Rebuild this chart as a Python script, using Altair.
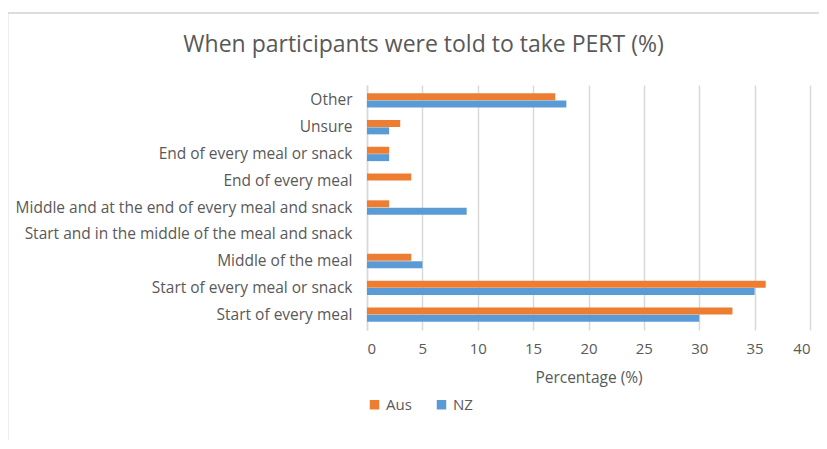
import altair as alt
import pandas as pd

categories = [
    "Other",
    "Unsure ",
    "End of every meal or snack",
    "End of every meal",
    "Middle and at the end of every meal and  snack",
    "Start and in the middle of the meal and snack",
    "Middle of the meal",
    "Start of every meal or snack",
    "Start of every meal",
]
aus = [17, 3, 2, 4, 2, 0, 4, 36, 33]
nz = [18, 2, 2, 0, 9, 0, 5, 35, 30]
series = ["Aus", "NZ"]
colors = ["#ED7D31", "#5B9BD5"]

rows = []
for c, a, n in zip(categories, aus, nz):
    rows.append({"Category": c, "Series": "Aus", "Value": a})
    rows.append({"Category": c, "Series": "NZ", "Value": n})
df = pd.DataFrame(rows)

FONT = "Open Sans"
GREY = "#595959"

bars = alt.Chart(df).mark_bar(size=7).encode(
    y=alt.Y("Category:N", sort=categories,
            scale=alt.Scale(paddingInner=0.45, paddingOuter=0.3),
            axis=alt.Axis(title=None, labelFontSize=15.5, labelColor=GREY, labelFont=FONT,
                          ticks=False, domain=True, domainColor="#D9D9D9", domainWidth=1.5,
                          labelPadding=15, grid=False, labelLimit=400)),
    yOffset=alt.YOffset("Series:N", sort=series),
    x=alt.X("Value:Q", scale=alt.Scale(domain=[0, 40]),
            axis=alt.Axis(title="Percentage (%)", values=list(range(0, 45, 5)),
                          labelFontSize=15, labelColor=GREY, labelFont=FONT,
                          titleFontSize=15.5, titleColor=GREY, titleFont=FONT, titleFontWeight="normal",
                          titlePadding=14,
                          ticks=False, domain=False, grid=True, gridColor="#D9D9D9",
                          gridWidth=1.5, labelPadding=11)),
    color=alt.Color("Series:N", sort=series,
                    scale=alt.Scale(domain=series, range=colors),
                    legend=alt.Legend(title=None, orient="none", legendX=0, legendY=312,
                                      direction="horizontal", symbolType="square",
                                      symbolSize=90, labelFontSize=15, labelColor=GREY,
                                      labelFont=FONT, columnPadding=22, symbolStrokeWidth=0)),
)

frame = alt.Chart(pd.DataFrame({"a": [0]})).mark_rect(
    fill=None, stroke="#DDDDDD", strokeWidth=2, clip=False
).encode(x=alt.value(-359.5), x2=alt.value(470), y=alt.value(-72), y2=alt.value(375))

chart = alt.layer(frame, bars).properties(
    width=443, height=245,
    padding={"left": 359, "top": 77, "right": 9, "bottom": 110},
    autosize=alt.AutoSizeParams(type="none"),
    title=alt.TitleParams("When participants were told to take PERT (%)", fontSize=23,
                          font=FONT, color=GREY, fontWeight="normal", anchor="middle",
                          frame="group", dx=-165, offset=-45),
).configure_view(stroke=None)

chart.save("out.html", embed_options={"renderer": "svg", "actions": False})
